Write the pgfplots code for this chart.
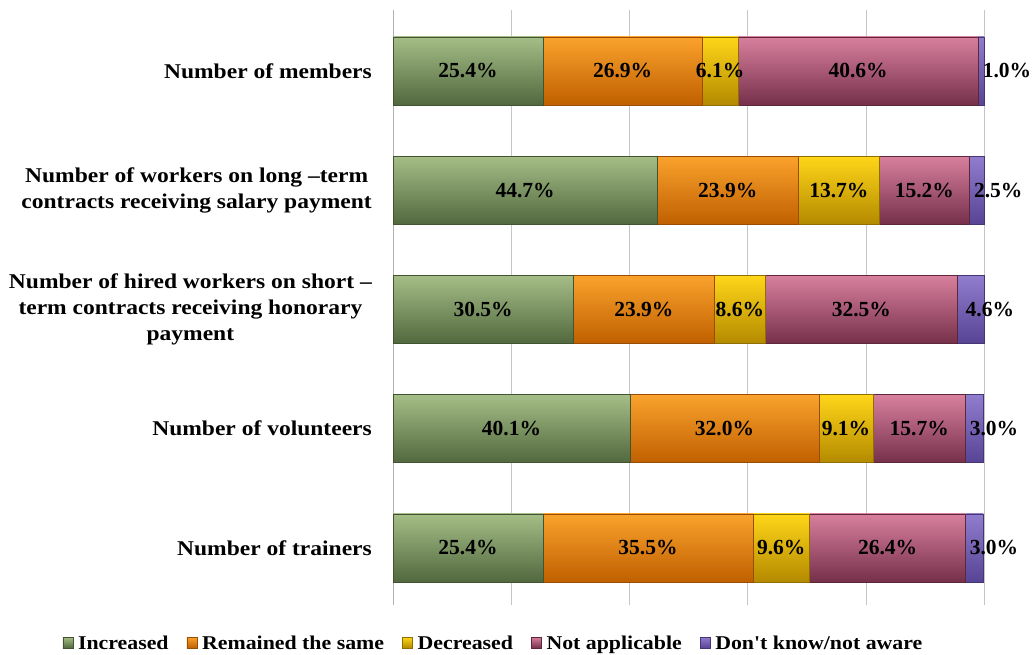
\documentclass[border=0pt]{standalone}
\usepackage{pgfplots}
\pgfplotsset{compat=1.18}
\usepackage{fontspec}
\setmainfont{Liberation Serif}
\newfontfamily\tickfont{Liberation Serif}[FakeStretch=1.12]
\definecolor{gT}{RGB}{165,190,135}\definecolor{gB}{RGB}{82,104,62}
\definecolor{oT}{RGB}{250,162,45}\definecolor{oB}{RGB}{192,96,0}
\definecolor{yT}{RGB}{255,214,25}\definecolor{yB}{RGB}{180,138,0}
\definecolor{pT}{RGB}{216,128,158}\definecolor{pB}{RGB}{118,48,74}
\definecolor{vT}{RGB}{145,125,205}\definecolor{vB}{RGB}{88,68,148}
\pgfplotsset{
  base/.style={scale only axis, width=591pt, height=595pt,
    xmin=0, xmax=100, ymin=-0.48, ymax=4.51, clip=false},
  row/.style={base, hide axis, xbar stacked, bar width=0.57},
  sG/.style={shading=axis, top color=gT, bottom color=gB, draw=gB!80!black, line width=0.5pt},
  sO/.style={shading=axis, top color=oT, bottom color=oB, draw=oB!80!black, line width=0.5pt},
  sY/.style={shading=axis, top color=yT, bottom color=yB, draw=yB!80!black, line width=0.5pt},
  sP/.style={shading=axis, top color=pT, bottom color=pB, draw=pB!80!black, line width=0.5pt},
  sV/.style={shading=axis, top color=vT, bottom color=vB, draw=vB!80!black, line width=0.5pt},
}
\pgfplotstableread{
x y l
12.7 4 25.4
38.85 4 26.9
55.35 4 6.1
78.7 4 40.6
103.9 4 1.0
22.35 3 44.7
56.65 3 23.9
75.45 3 13.7
89.9 3 15.2
102.4 3 2.5
15.25 2 30.5
42.45 2 23.9
58.7 2 8.6
79.25 2 32.5
101.0 2 4.6
20.05 1 40.1
56.1 1 32.0
76.65 1 9.1
89.05 1 15.7
101.7 1 3.0
12.7 0 25.4
43.15 0 35.5
65.7 0 9.6
83.7 0 26.4
101.7 0 3.0
}\labeltable
\begin{document}
\begin{tikzpicture}
\useasboundingbox (-393pt,-49pt) rectangle (639pt,605pt);
% main axis: grid, tick labels, legend
\begin{axis}[
  base,
  xtick={0,20,...,100}, xticklabels={},
  xmajorgrids, grid style={gray!45, line width=0.6pt},
  axis line style={draw=none},
  major tick length=0pt,
  ytick={0,1,2,3,4},
  yticklabels={Number of trainers, Number of volunteers,
    {Number of hired workers on short –\\term contracts receiving honorary\\payment},
    {Number of workers on long –term\\contracts receiving salary payment},
    Number of members},
  yticklabel style={align=center, inner xsep=0pt, xshift=-21pt,
    font=\tickfont\bfseries\fontsize{21}{26}\selectfont},
  legend columns=5,
  legend style={at={(0.170,-0.064)}, anchor=center, draw=none, fill=none,
    font=\tickfont\bfseries\fontsize{19.5}{22}\selectfont,
    /tikz/every odd column/.append style={column sep=3pt},
    /tikz/every even column/.append style={column sep=16pt},
    inner sep=0pt},
  legend image code/.code={\path[#1] (0pt,-5pt) rectangle (10pt,6pt);},
]
\addlegendimage{sG}\addlegendentry{Increased}
\addlegendimage{sO}\addlegendentry{Remained the same}
\addlegendimage{sY}\addlegendentry{Decreased}
\addlegendimage{sP}\addlegendentry{Not applicable}
\addlegendimage{sV}\addlegendentry{Don't know/not aware}
\draw[gray!60, line width=0.8pt] (axis cs:0,-0.48) -- (axis cs:0,4.51);
\end{axis}
% Number of members
\begin{axis}[row]
\addplot[sG] coordinates {(25.4,4)};
\addplot[sO] coordinates {(26.9,4)};
\addplot[sY] coordinates {(6.1,4)};
\addplot[sP] coordinates {(40.6,4)};
\addplot[sV] coordinates {(1.0,4)};
\end{axis}
% long-term contracts
\begin{axis}[row]
\addplot[sG] coordinates {(44.7,3)};
\addplot[sO] coordinates {(23.9,3)};
\addplot[sY] coordinates {(13.7,3)};
\addplot[sP] coordinates {(15.2,3)};
\addplot[sV] coordinates {(2.5,3)};
\end{axis}
% short-term contracts
\begin{axis}[row]
\addplot[sG] coordinates {(30.5,2)};
\addplot[sO] coordinates {(23.9,2)};
\addplot[sY] coordinates {(8.6,2)};
\addplot[sP] coordinates {(32.5,2)};
\addplot[sV] coordinates {(4.6,2)};
\end{axis}
% volunteers
\begin{axis}[row]
\addplot[sG] coordinates {(40.1,1)};
\addplot[sO] coordinates {(32.0,1)};
\addplot[sY] coordinates {(9.1,1)};
\addplot[sP] coordinates {(15.7,1)};
\addplot[sV] coordinates {(3.0,1)};
\end{axis}
% trainers
\begin{axis}[row]
\addplot[sG] coordinates {(25.4,0)};
\addplot[sO] coordinates {(35.5,0)};
\addplot[sY] coordinates {(9.6,0)};
\addplot[sP] coordinates {(26.4,0)};
\addplot[sV] coordinates {(3.0,0)};
\end{axis}
% value labels
\begin{axis}[base, hide axis]
\addplot[only marks, mark=*, mark size=0pt, mark options={draw=none, fill=none},
  nodes near coords={\pgfplotspointmeta\%}, point meta=explicit symbolic,
  nodes near coords style={anchor=center, inner sep=0pt,
    font=\bfseries\fontsize{21.5}{24}\selectfont}]
  table[x=x, y=y, meta=l] {\labeltable};
\end{axis}
\end{tikzpicture}
\end{document}
